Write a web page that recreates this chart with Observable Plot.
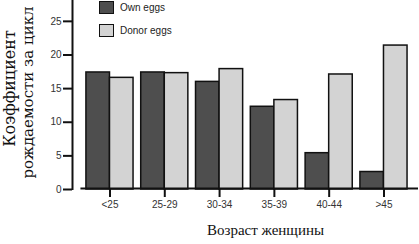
<!DOCTYPE html>
<html><head><meta charset="utf-8">
<script src="https://cdn.jsdelivr.net/npm/d3@7"></script>
<script src="https://cdn.jsdelivr.net/npm/@observablehq/plot@0.6"></script>
<style>
body{margin:0;background:#fff;}
#wrap{position:relative;width:419px;height:244px;}
.leg{position:absolute;left:99px;font:10px "Liberation Sans",Arial,sans-serif;color:#222;display:flex;align-items:center;}
.sw{width:13px;height:11px;border:1.6px solid #111;margin-right:6px;}
</style></head><body><div id="wrap"></div>
<script>
const categories = ["<25","25-29","30-34","35-39","40-44",">45"];
const ownEggs = [17.4,17.4,16.0,12.3,5.4,2.6];
const donorEggs = [16.6,17.3,17.9,13.3,17.1,21.4];
const seriesNames = ["Own eggs","Donor eggs"];
const seriesColors = ["#4e4e4e","#d3d3d3"];
const yTicks = [0,5,10,15,20,25];
const yLabelLines = ["Коэффициент", "рождаемости за цикл"];
const xLabel = "Возраст женщины";

const rows = [];
categories.forEach((c,i)=>{
  rows.push({i, cat:c, s:seriesNames[0], v:ownEggs[i]});
  rows.push({i, cat:c, s:seriesNames[1], v:donorEggs[i]});
});
const half = 0.43;
const xDomain = [-0.684, 5.63];
const idx = categories.map((c,i)=>i);
const serif = "'Liberation Serif', 'Times New Roman', serif";
const wideSerif = "'DejaVu Serif', serif";

const plot = Plot.plot({
  width: 419, height: 244,
  marginLeft: 72, marginRight: 1, marginTop: 0, marginBottom: 55,
  x: {type: "linear", domain: xDomain, axis: null},
  y: {type: "linear", domain: [0, 28.1], axis: null},
  color: {domain: seriesNames, range: seriesColors},
  style: {fontFamily: "'Liberation Sans', Arial, sans-serif"},
  marks: [
    Plot.rectY(rows, {
      x1: d => d.s === seriesNames[0] ? d.i - half : d.i,
      x2: d => d.s === seriesNames[0] ? d.i : d.i + half,
      y1: 0, y2: "v", fill: "s", stroke: "#111", strokeWidth: 1.5
    }),
    Plot.ruleY([0], {x1: -0.53, x2: xDomain[1], stroke: "#111", strokeWidth: 2, dy: -1}),
    Plot.axisX(idx, {tickSize: 8, tickPadding: 3, tickFormat: i => categories[i], fontSize: 10, fill: "#333", stroke: "#111", strokeWidth: 2, label: null}),
    Plot.ruleX([xDomain[0]], {y1: -0.15, y2: 28.1, stroke: "#111", strokeWidth: 2}),
    Plot.axisY(yTicks, {tickSize: 9, tickPadding: 2, fontSize: 10, fill: "#333", stroke: "#111", strokeWidth: 2, label: null}),
    Plot.text([yLabelLines[0]], {frameAnchor: "left", textAnchor: "middle", rotate: -90, dx: -63, dy: -6.5, fontSize: 16, fontFamily: wideSerif, fill: "#111"}),
    Plot.text([yLabelLines[1]], {frameAnchor: "left", textAnchor: "middle", rotate: -90, dx: -44, dy: -2.5, fontSize: 15, fontFamily: wideSerif, fill: "#111"}),
    Plot.text([xLabel], {frameAnchor: "bottom", dx: 20, dy: 45, fontSize: 15, fontFamily: serif, fill: "#111"})
  ]
});
const wrap = document.getElementById("wrap");
wrap.appendChild(plot);
seriesNames.forEach((n,k)=>{
  const d = document.createElement("div");
  d.className = "leg";
  d.style.top = (1 + k*23) + "px";
  d.innerHTML = `<div class="sw" style="background:${seriesColors[k]}"></div><span>${n}</span>`;
  wrap.appendChild(d);
});
</script></body></html>
